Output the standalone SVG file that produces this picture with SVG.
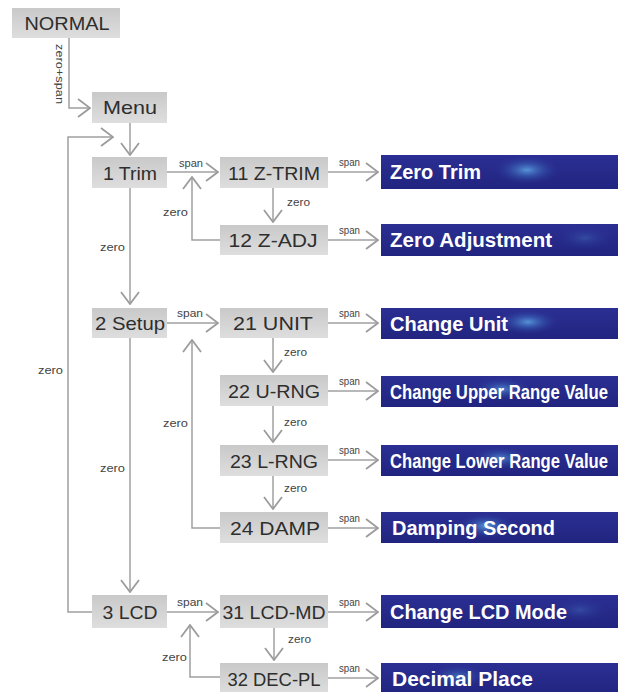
<svg xmlns="http://www.w3.org/2000/svg" width="621" height="692" viewBox="0 0 621 692">
<defs>
<linearGradient id="gg" x1="0" y1="0" x2="0" y2="1">
<stop offset="0" stop-color="#c9c9c9"/>
<stop offset="1" stop-color="#dedede"/>
</linearGradient>
<linearGradient id="bg" x1="0" y1="0" x2="0" y2="1">
<stop offset="0" stop-color="#2b2f93"/>
<stop offset="1" stop-color="#21247f"/>
</linearGradient>
<radialGradient id="hl">
<stop offset="0" stop-color="#5fa8e6" stop-opacity="0.85"/>
<stop offset="0.5" stop-color="#3d6fc0" stop-opacity="0.4"/>
<stop offset="1" stop-color="#2b2f93" stop-opacity="0"/>
</radialGradient>
<marker id="ah" markerWidth="14" markerHeight="20" refX="13" refY="10" orient="auto" markerUnits="userSpaceOnUse" viewBox="0 0 14 20">
<path d="M1,1 L13,10 L1,19" fill="none" stroke="#9c9c9c" stroke-width="1.8"/>
</marker>
</defs>
<style>
.g{fill:url(#gg);}
.b{fill:url(#bg);}
.gt{font-family:"Liberation Sans",Arial,sans-serif;font-size:19px;fill:#2e2e2e;text-anchor:middle;}
.bt{font-family:"Liberation Sans",Arial,sans-serif;font-size:20px;font-weight:bold;fill:#ffffff;}
.bs{font-size:17px;}
.lb{font-family:"Liberation Sans",Arial,sans-serif;font-size:11px;fill:#444;}
.c path{fill:none;stroke:#a0a0a0;stroke-width:1.5;}
</style>
<rect width="621" height="692" fill="#ffffff"/>

<g id="connectors" class="c">
<path d="M69,38 V108 H90" marker-end="url(#ah)"/>
<path d="M130,123 V155" marker-end="url(#ah)"/>
<path d="M92,612 H68 V137 H113" marker-end="url(#ah)"/>
<path d="M167,172 H218" marker-end="url(#ah)"/>
<path d="M328,172 H378" marker-end="url(#ah)"/>
<path d="M273,188 V222" marker-end="url(#ah)"/>
<path d="M220,240 H192 V177" marker-end="url(#ah)"/>
<path d="M328,240 H378" marker-end="url(#ah)"/>
<path d="M130,188 V304" marker-end="url(#ah)"/>
<path d="M167,323 H218" marker-end="url(#ah)"/>
<path d="M328,323 H378" marker-end="url(#ah)"/>
<path d="M273,338 V372" marker-end="url(#ah)"/>
<path d="M328,391 H378" marker-end="url(#ah)"/>
<path d="M273,406 V442" marker-end="url(#ah)"/>
<path d="M328,460 H378" marker-end="url(#ah)"/>
<path d="M273,476 V509" marker-end="url(#ah)"/>
<path d="M328,528 H378" marker-end="url(#ah)"/>
<path d="M220,528 H192 V340" marker-end="url(#ah)"/>
<path d="M130,338 V592" marker-end="url(#ah)"/>
<path d="M167,612 H218" marker-end="url(#ah)"/>
<path d="M328,612 H378" marker-end="url(#ah)"/>
<path d="M274,628 V660" marker-end="url(#ah)"/>
<path d="M220,677 H190 V625" marker-end="url(#ah)"/>
<path d="M328,678 H378" marker-end="url(#ah)"/>
</g>

<g id="labels">
<text class="lb" transform="translate(56,74) rotate(90)" text-anchor="middle" textLength="60" lengthAdjust="spacingAndGlyphs">zero+span</text>
<text class="lb" x="179" y="167" textLength="24" lengthAdjust="spacingAndGlyphs">span</text>
<text class="lb" x="339" y="166" textLength="21" lengthAdjust="spacingAndGlyphs">span</text>
<text class="lb" x="287" y="206" textLength="23" lengthAdjust="spacingAndGlyphs">zero</text>
<text class="lb" x="163" y="216" textLength="25" lengthAdjust="spacingAndGlyphs">zero</text>
<text class="lb" x="339" y="234" textLength="21" lengthAdjust="spacingAndGlyphs">span</text>
<text class="lb" x="100" y="251" textLength="25" lengthAdjust="spacingAndGlyphs">zero</text>
<text class="lb" x="177" y="317" textLength="26" lengthAdjust="spacingAndGlyphs">span</text>
<text class="lb" x="339" y="317" textLength="21" lengthAdjust="spacingAndGlyphs">span</text>
<text class="lb" x="284" y="356" textLength="23" lengthAdjust="spacingAndGlyphs">zero</text>
<text class="lb" x="38" y="374" textLength="25" lengthAdjust="spacingAndGlyphs">zero</text>
<text class="lb" x="339" y="385" textLength="21" lengthAdjust="spacingAndGlyphs">span</text>
<text class="lb" x="163" y="427" textLength="25" lengthAdjust="spacingAndGlyphs">zero</text>
<text class="lb" x="284" y="426" textLength="23" lengthAdjust="spacingAndGlyphs">zero</text>
<text class="lb" x="339" y="454" textLength="21" lengthAdjust="spacingAndGlyphs">span</text>
<text class="lb" x="100" y="472" textLength="25" lengthAdjust="spacingAndGlyphs">zero</text>
<text class="lb" x="284" y="492" textLength="23" lengthAdjust="spacingAndGlyphs">zero</text>
<text class="lb" x="339" y="522" textLength="21" lengthAdjust="spacingAndGlyphs">span</text>
<text class="lb" x="177" y="606" textLength="26" lengthAdjust="spacingAndGlyphs">span</text>
<text class="lb" x="339" y="606" textLength="21" lengthAdjust="spacingAndGlyphs">span</text>
<text class="lb" x="288" y="643" textLength="23" lengthAdjust="spacingAndGlyphs">zero</text>
<text class="lb" x="162" y="661" textLength="25" lengthAdjust="spacingAndGlyphs">zero</text>
<text class="lb" x="339" y="672" textLength="21" lengthAdjust="spacingAndGlyphs">span</text>
</g>

<g id="n-normal"><rect class="g" x="12" y="8" width="108" height="30"/><text class="gt" x="67" y="30" textLength="85" lengthAdjust="spacingAndGlyphs">NORMAL</text></g>
<g id="n-menu"><rect class="g" x="92" y="92" width="75" height="31"/><text class="gt" x="130" y="114" textLength="54" lengthAdjust="spacingAndGlyphs">Menu</text></g>
<g id="n-1"><rect class="g" x="92" y="157" width="75" height="31"/><text class="gt" x="130" y="180" textLength="54" lengthAdjust="spacingAndGlyphs">1 Trim</text></g>
<g id="n-11"><rect class="g" x="220" y="157" width="108" height="31"/><text class="gt" x="274" y="180" textLength="92" lengthAdjust="spacingAndGlyphs">11 Z-TRIM</text></g>
<g id="n-12"><rect class="g" x="220" y="225" width="108" height="30"/><text class="gt" x="273" y="247" textLength="89" lengthAdjust="spacingAndGlyphs">12 Z-ADJ</text></g>
<g id="n-2"><rect class="g" x="92" y="308" width="75" height="30"/><text class="gt" x="130" y="330" textLength="70" lengthAdjust="spacingAndGlyphs">2 Setup</text></g>
<g id="n-21"><rect class="g" x="220" y="308" width="108" height="30"/><text class="gt" x="273" y="330" textLength="80" lengthAdjust="spacingAndGlyphs">21 UNIT</text></g>
<g id="n-22"><rect class="g" x="220" y="375" width="108" height="31"/><text class="gt" x="274" y="398" textLength="92" lengthAdjust="spacingAndGlyphs">22 U-RNG</text></g>
<g id="n-23"><rect class="g" x="220" y="445" width="108" height="31"/><text class="gt" x="274" y="468" textLength="88" lengthAdjust="spacingAndGlyphs">23 L-RNG</text></g>
<g id="n-24"><rect class="g" x="220" y="512" width="108" height="31"/><text class="gt" x="275" y="535" textLength="90" lengthAdjust="spacingAndGlyphs">24 DAMP</text></g>
<g id="n-3"><rect class="g" x="92" y="595" width="75" height="33"/><text class="gt" x="130" y="619" textLength="55" lengthAdjust="spacingAndGlyphs">3 LCD</text></g>
<g id="n-31"><rect class="g" x="220" y="595" width="108" height="33"/><text class="gt" x="274" y="619" textLength="103" lengthAdjust="spacingAndGlyphs">31 LCD-MD</text></g>
<g id="n-32"><rect class="g" x="220" y="663" width="108" height="32"/><text class="gt" x="274" y="686" textLength="93" lengthAdjust="spacingAndGlyphs">32 DEC-PL</text></g>

<g id="b-zerotrim"><rect class="b" x="381" y="155" width="237" height="34"/><ellipse cx="527" cy="170" rx="34" ry="15" fill="url(#hl)"/><text class="bt" x="390" y="179" textLength="91" lengthAdjust="spacingAndGlyphs">Zero Trim</text></g>
<g id="b-zeroadj"><rect class="b" x="381" y="224" width="237" height="32"/><ellipse cx="585" cy="238" rx="30" ry="13" fill="url(#hl)" opacity="0.3"/><text class="bt" x="390" y="247" textLength="162" lengthAdjust="spacingAndGlyphs">Zero Adjustment</text></g>
<g id="b-unit"><rect class="b" x="381" y="308" width="237" height="31"/><ellipse cx="528" cy="322" rx="32" ry="13" fill="url(#hl)"/><text class="bt" x="390" y="331" textLength="118" lengthAdjust="spacingAndGlyphs">Change Unit</text></g>
<g id="b-upper"><rect class="b" x="381" y="376" width="237" height="31"/><ellipse cx="502" cy="389" rx="30" ry="12" fill="url(#hl)" opacity="0.8"/><text class="bt bs" transform="translate(390,399) scale(1,1.15)" x="0" y="0" textLength="218" lengthAdjust="spacingAndGlyphs">Change Upper Range Value</text></g>
<g id="b-lower"><rect class="b" x="381" y="445" width="237" height="31"/><ellipse cx="500" cy="458" rx="30" ry="12" fill="url(#hl)" opacity="0.8"/><text class="bt bs" transform="translate(390,468) scale(1,1.15)" x="0" y="0" textLength="218" lengthAdjust="spacingAndGlyphs">Change Lower Range Value</text></g>
<g id="b-damp"><rect class="b" x="381" y="512" width="237" height="31"/><ellipse cx="486" cy="526" rx="30" ry="13" fill="url(#hl)"/><text class="bt" x="392" y="535" textLength="163" lengthAdjust="spacingAndGlyphs">Damping Second</text></g>
<g id="b-lcdmd"><rect class="b" x="381" y="595" width="237" height="33"/><ellipse cx="580" cy="610" rx="30" ry="13" fill="url(#hl)" opacity="0.3"/><text class="bt" x="390" y="619" textLength="177" lengthAdjust="spacingAndGlyphs">Change LCD Mode</text></g>
<g id="b-decpl"><rect class="b" x="381" y="663" width="237" height="32"/><ellipse cx="458" cy="676" rx="30" ry="12" fill="url(#hl)" opacity="0.6"/><text class="bt" x="392" y="686" textLength="141" lengthAdjust="spacingAndGlyphs">Decimal Place</text></g>
</svg>
